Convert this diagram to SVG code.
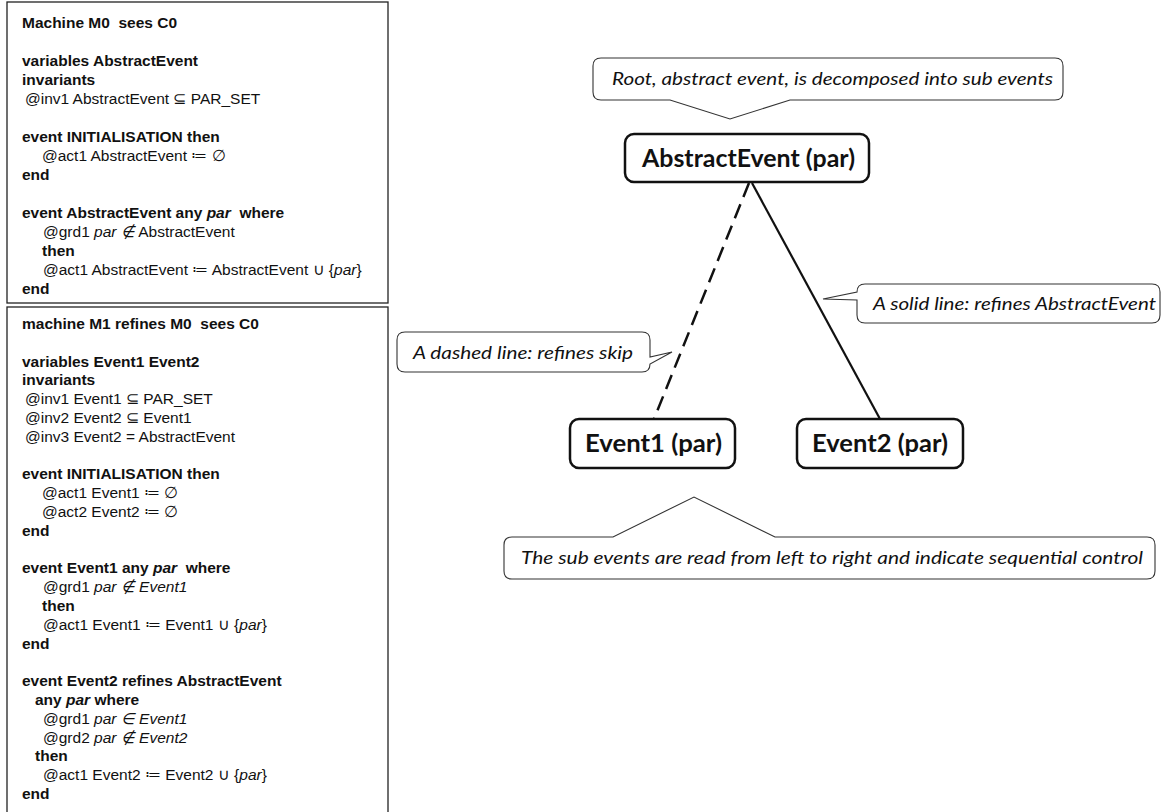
<svg xmlns="http://www.w3.org/2000/svg" width="1162" height="812" viewBox="0 0 1162 812">
<style>
.box{fill:#fff;stroke:#222;stroke-width:1.3}
.code text{font-family:"Liberation Sans",Arial,sans-serif;font-size:15.5px;fill:#111;white-space:pre}
.b{font-weight:bold}
.i{font-style:italic}
.node rect{fill:#fff;stroke:#111;stroke-width:2.5}
.node text{font-family:Lato,"Open Sans",sans-serif;font-weight:bold;font-size:24px;fill:#111;text-anchor:middle}
.callout path{fill:#fff;stroke:#333;stroke-width:1.1}
.callout text{font-family:Lato,"Open Sans",sans-serif;font-style:italic;font-size:18px;fill:#111}
.edge{stroke:#111;fill:none}
</style>
<rect width="1162" height="812" fill="#fff"/>
<g id="machine-m0">
<rect class="box" x="7" y="2" width="381" height="301"/>
<g class="code">
<text class="b" x="22" y="28" xml:space="preserve">Machine M0  sees C0</text>
<text class="b" x="22" y="66">variables AbstractEvent</text>
<text class="b" x="22" y="85">invariants</text>
<text x="25" y="104">@inv1 AbstractEvent ⊆ PAR_SET</text>
<text class="b" x="22" y="142">event INITIALISATION then</text>
<text x="42" y="161">@act1 AbstractEvent ≔ ∅</text>
<text class="b" x="22" y="180">end</text>
<text class="b" x="22" y="218" xml:space="preserve">event AbstractEvent any <tspan class="i">par</tspan>  where</text>
<text x="43" y="237">@grd1 <tspan class="i">par ∉</tspan> AbstractEvent</text>
<text class="b" x="42" y="256">then</text>
<text x="43" y="275">@act1 AbstractEvent ≔ AbstractEvent ∪ {<tspan class="i">par</tspan>}</text>
<text class="b" x="22" y="294">end</text>
</g>
</g>
<g id="machine-m1">
<rect class="box" x="7" y="307" width="381" height="515"/>
<g class="code">
<text class="b" x="22" y="329" xml:space="preserve">machine M1 refines M0  sees C0</text>
<text class="b" x="22" y="366.6">variables Event1 Event2</text>
<text class="b" x="22" y="385.4">invariants</text>
<text x="25" y="404.2">@inv1 Event1 ⊆ PAR_SET</text>
<text x="25" y="423">@inv2 Event2 ⊆ Event1</text>
<text x="25" y="441.8">@inv3 Event2 = AbstractEvent</text>
<text class="b" x="22" y="479.4">event INITIALISATION then</text>
<text x="42" y="498.2">@act1 Event1 ≔ ∅</text>
<text x="42" y="517">@act2 Event2 ≔ ∅</text>
<text class="b" x="22" y="535.8">end</text>
<text class="b" x="22" y="573.4" xml:space="preserve">event Event1 any <tspan class="i">par</tspan>  where</text>
<text x="43" y="592.2">@grd1 <tspan class="i">par ∉ Event1</tspan></text>
<text class="b" x="42" y="611">then</text>
<text x="43" y="629.8">@act1 Event1 ≔ Event1 ∪ {<tspan class="i">par</tspan>}</text>
<text class="b" x="22" y="648.6">end</text>
<text class="b" x="22" y="686.2">event Event2 refines AbstractEvent</text>
<text class="b" x="35" y="705">any <tspan class="i">par</tspan> where</text>
<text x="43" y="723.8">@grd1 <tspan class="i">par ∈ Event1</tspan></text>
<text x="43" y="742.6">@grd2 <tspan class="i">par ∉ Event2</tspan></text>
<text class="b" x="35" y="761.4">then</text>
<text x="43" y="780.2">@act1 Event2 ≔ Event2 ∪ {<tspan class="i">par</tspan>}</text>
<text class="b" x="22" y="799">end</text>
</g>
</g>
<g id="connectors">
<line class="edge" x1="749" y1="183" x2="654" y2="419" stroke-width="2.5" stroke-dasharray="15 8"/>
<line class="edge" x1="752" y1="183" x2="880" y2="419" stroke-width="2.2"/>
</g>
<g id="node-abstract" class="node">
<rect x="625" y="134" width="244" height="48" rx="9"/>
<text x="748.5" y="167" textLength="213" lengthAdjust="spacingAndGlyphs">AbstractEvent (par)</text>
</g>
<g id="node-event1" class="node">
<rect x="570" y="419" width="165" height="49" rx="9"/>
<text x="653.5" y="452" textLength="137" lengthAdjust="spacingAndGlyphs">Event1 (par)</text>
</g>
<g id="node-event2" class="node">
<rect x="797" y="419" width="166" height="49" rx="9"/>
<text x="880" y="452" textLength="136" lengthAdjust="spacingAndGlyphs">Event2 (par)</text>
</g>
<g id="callout-root" class="callout">
<path d="M601,58 H1055 Q1063,58 1063,66 V92 Q1063,100 1055,100 H790 L730,119 L670,100 H601 Q593,100 593,92 V66 Q593,58 601,58 Z"/>
<text x="612" y="85" textLength="441" lengthAdjust="spacingAndGlyphs">Root, abstract event, is decomposed into sub events</text>
</g>
<g id="callout-dashed" class="callout">
<path d="M405,332 H642 Q650,332 650,340 V357 L672,352 L650,364 Q650,372 642,372 H405 Q397,372 397,364 V340 Q397,332 405,332 Z"/>
<text x="413" y="359" textLength="220" lengthAdjust="spacingAndGlyphs">A dashed line: refines skip</text>
</g>
<g id="callout-solid" class="callout">
<path d="M865,284 H1152 Q1160,284 1160,292 V315 Q1160,323 1152,323 H865 Q857,323 857,315 V300 L823,299 L857,292 Q857,284 865,284 Z"/>
<text x="873" y="310" textLength="283" lengthAdjust="spacingAndGlyphs">A solid line: refines AbstractEvent</text>
</g>
<g id="callout-sequence" class="callout">
<path d="M512,537 H613 L694,497 L775,537 H1147 Q1155,537 1155,545 V571 Q1155,579 1147,579 H512 Q504,579 504,571 V545 Q504,537 512,537 Z"/>
<text x="521" y="564" textLength="622" lengthAdjust="spacingAndGlyphs">The sub events are read from left to right and indicate sequential control</text>
</g>
</svg>
